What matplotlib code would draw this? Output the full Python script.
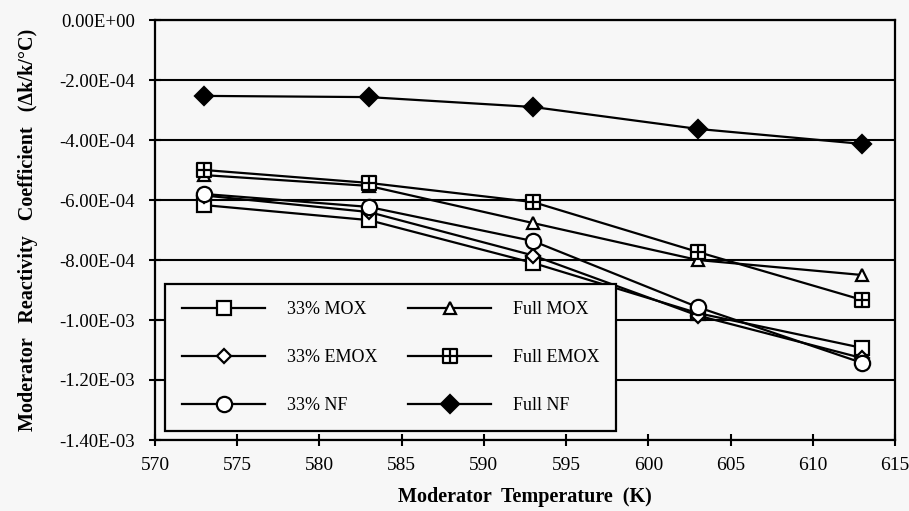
import matplotlib
matplotlib.use("Agg")
import matplotlib.pyplot as plt
from matplotlib.path import Path

temps = [573, 583, 593, 603, 613]
mox33 = [-6.17e-4, -6.67e-4, -8.10e-4, -9.77e-4, -1.093e-3]
emox33 = [-5.85e-4, -6.40e-4, -7.85e-4, -9.85e-4, -1.127e-3]
nf33 = [-5.80e-4, -6.23e-4, -7.37e-4, -9.57e-4, -1.143e-3]
mox_full = [-5.17e-4, -5.53e-4, -6.77e-4, -8.00e-4, -8.50e-4]
emox_full = [-5.00e-4, -5.43e-4, -6.07e-4, -7.73e-4, -9.33e-4]
nf_full = [-2.53e-4, -2.57e-4, -2.90e-4, -3.63e-4, -4.13e-4]

labels = ["33% MOX", "33% EMOX", "33% NF", "Full MOX", "Full EMOX", "Full NF"]
yticks = [0, -2e-4, -4e-4, -6e-4, -8e-4, -1e-3, -1.2e-3, -1.4e-3]
ytick_labels = ["0.00E+00", "-2.00E-04", "-4.00E-04", "-6.00E-04", "-8.00E-04",
                "-1.00E-03", "-1.20E-03", "-1.40E-03"]
xticks = [570, 575, 580, 585, 590, 595, 600, 605, 610, 615]

plt.rcParams['font.family'] = ['Liberation Serif', 'DejaVu Serif']

# square with a cross inside
sq_plus = Path(
    [(-1, -1), (1, -1), (1, 1), (-1, 1), (-1, -1),
     (-1, 0), (1, 0), (0, -1), (0, 1)],
    [Path.MOVETO, Path.LINETO, Path.LINETO, Path.LINETO, Path.CLOSEPOLY,
     Path.MOVETO, Path.LINETO, Path.MOVETO, Path.LINETO])

bg = '#f7f7f7'
fig = plt.figure(figsize=(9.09, 5.11), dpi=100, facecolor=bg)
ax = fig.add_axes([155/909, 1-440/511, 740/909, 420/511])
ax.set_facecolor(bg)

series = [mox33, emox33, nf33, mox_full, emox_full, nf_full]
markers = ['s', 'D', 'o', '^', sq_plus, 'D']
msizes = [10, 7, 11, 9, 10, 9]
faces = ['white', 'white', 'white', 'white', 'white', 'black']
handles = []
for vals, m, ms, fc, lab in zip(series, markers, msizes, faces, labels):
    h, = ax.plot(temps, vals, color='black', lw=1.6, marker=m, markersize=ms,
                 markerfacecolor=fc, markeredgecolor='black', markeredgewidth=1.6,
                 label=lab, zorder=3)
    handles.append(h)

ax.set_xlim(570, 615)
ax.set_ylim(-1.4e-3, 0)
ax.set_yticks(yticks)
ax.set_yticklabels(ytick_labels)
ax.set_xticks(xticks)
ax.tick_params(axis='both', direction='inout', length=9, width=1.5, colors='black')
ax.tick_params(axis='y', labelsize=13.5, pad=10)
ax.tick_params(axis='x', labelsize=14, pad=8)
ax.grid(axis='y', color='black', lw=1.5)
ax.set_axisbelow(True)
for s in ax.spines.values():
    s.set_linewidth(1.6)

ax.set_xlabel("Moderator  Temperature  (K)", fontsize=14.5, fontweight='bold', labelpad=9)
ax.set_ylabel("Moderator   Reactivity   Coefficient   (\u0394k/k/\u00b0C)", fontsize=14.5,
              fontweight='bold', labelpad=15)

leg = ax.legend(handles=handles, ncol=2, loc='lower left',
                bbox_to_anchor=(1/740, 0.0), fontsize=13, frameon=True,
                fancybox=False, edgecolor='black', facecolor=bg, framealpha=1,
                handlelength=4.6, handletextpad=1.2, labelspacing=1.7,
                columnspacing=1.7, borderpad=0.95)
leg.get_frame().set_linewidth(1.6)

fig.savefig("out.png", dpi=100, facecolor=bg)
